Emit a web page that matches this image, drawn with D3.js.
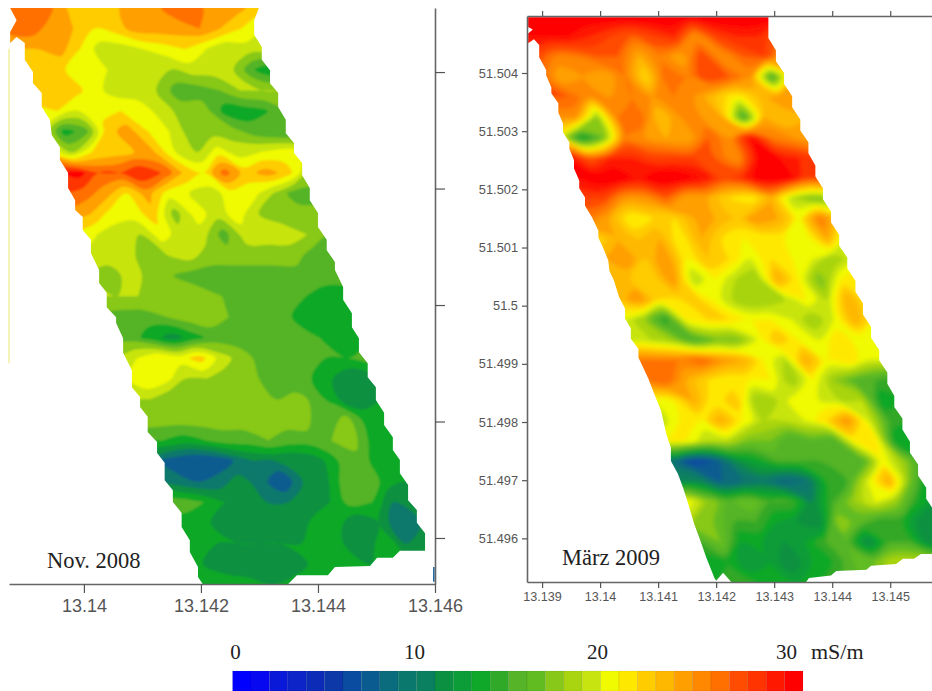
<!DOCTYPE html>
<html>
<head>
<meta charset="utf-8">
<script src="https://cdn.jsdelivr.net/npm/d3@7"></script>
<style>
  body { margin: 0; background: #fff; }
  svg { display: block; }
  .caption { font-family: "Liberation Serif", serif; fill: #222; }
  .tick text { font-family: "Liberation Sans", Arial, sans-serif; fill: #555; }
</style>
</head>
<body>
<div id="chart"></div>
<script>
const width = 932;
const height = 691;

// conductivity colour key, one colour per mS/m
const legendColors = ['#0000ff', '#0808f0', '#0a18d8', '#0c24c8', '#0c2cb8', '#0c38a8', '#0a4ca0', '#0a5c90',
    '#0a6c7c', '#0a786c', '#0a8060', '#0a9040', '#0c9c38', '#10a828', '#30a828', '#55b428', '#60bc20', '#88c818',
    '#a8d410', '#c8e410', '#f0fa00', '#ffe800', '#ffcc00', '#ffb800', '#ff9f00', '#ff8800', '#ff7000', '#ff4c00',
    '#ff3400', '#ff1800', '#ff0000'];
const legendLabels = [0, 10, 20, 30];

const novValues = [
    [26, 26, 27, 24, 22, 23, 25, 25, 27, 27, 25, 25, 23, 21],
    [27, 27, 25, 24, 22, 23, 25, 25, 25, 26, 24, 22, 20, 19],
    [24, 24, 25, 22, 19, 19, 20, 21, 22, 20, 18, 19, 19, 19],
    [23, 23, 22, 21, 20, 19, 19, 18, 19, 19, 18, 14, 12, 14],
    [24, 24, 23, 21, 19, 19, 18, 15, 15, 16, 18, 18, 18, 18],
    [21, 22, 20, 21, 22, 21, 19, 17, 17, 13, 13, 14, 16, 16],
    [20, 13, 15, 23, 25, 22, 20, 17, 17, 17, 15, 14, 14, 16],
    [22, 18, 22, 23, 24, 24, 20, 18, 21, 19, 20, 21, 21, 20],
    [30, 31, 28, 28, 30, 28, 24, 22, 27, 23, 25, 23, 18, 18],
    [28, 27, 25, 22, 25, 21, 20, 19, 21, 21, 18, 15, 15, 16],
    [25, 24, 21, 21, 23, 17, 21, 19, 21, 18, 17, 17, 17, 17],
    [21, 20, 19, 18, 21, 19, 19, 15, 19, 19, 19, 18, 16, 16],
    [20, 19, 19, 17, 18, 19, 17, 17, 17, 17, 17, 15, 15, 15],
    [18, 17, 19, 17, 16, 15, 15, 15, 15, 15, 15, 15, 15, 15],
    [18, 18, 18, 17, 17, 17, 16, 15, 15, 15, 14, 13, 13, 14],
    [15, 15, 15, 16, 17, 17, 16, 15, 15, 14, 13, 13, 13, 13],
    [15, 15, 13, 11, 13, 15, 15, 15, 16, 16, 14, 13, 13, 14],
    [18, 20, 22, 21, 23, 19, 17, 15, 15, 15, 14, 14, 15, 15],
    [20, 22, 21, 18, 18, 17, 17, 15, 14, 14, 12, 10, 11, 13],
    [18, 18, 16, 17, 17, 17, 17, 16, 17, 15, 12, 11, 12, 13],
    [17, 17, 17, 17, 17, 17, 17, 17, 17, 14, 17, 13, 12, 13],
    [14, 14, 13, 14, 15, 15, 16, 15, 15, 16, 17, 13, 12, 13],
    [9, 7, 6, 6, 8, 10, 10, 10, 11, 14, 15, 13, 12, 13],
    [10, 9, 8, 9, 11, 9, 6, 10, 11, 15, 16, 13, 12, 13],
    [15, 15, 14, 12, 10, 10, 10, 10, 12, 15, 14, 10, 11, 13],
    [13, 13, 12, 11, 10, 10, 10, 13, 13, 10, 12, 8, 10, 12],
    [13, 13, 12, 12, 12, 12, 12, 14, 12, 10, 14, 10, 12, 12],
    [12, 12, 10, 10, 10, 10, 12, 13, 12, 12, 12, 12, 12, 12],
    [12, 13, 14, 13, 12, 13, 12, 12, 12, 12, 12, 12, 12, 12]
];

// März 2009
const marValues = [
    [31, 31, 31, 31, 31, 31, 31, 31, 31, 31, 31, 31, 31, 31],
    [30, 30, 30, 29, 28, 27, 28, 29, 25, 28, 29, 29, 27, 27],
    [28, 26, 26, 27, 27, 24, 26, 24, 28, 25, 27, 28, 24, 24],
    [27, 24, 25, 24, 26, 22, 27, 26, 28, 27, 25, 15, 24, 24],
    [27, 27, 25, 25, 26, 25, 26, 25, 23, 21, 23, 25, 24, 24],
    [25, 25, 18, 26, 27, 23, 25, 25, 24, 15, 24, 23, 24, 24],
    [20, 13, 17, 26, 25, 24, 24, 27, 25, 30, 26, 25, 24, 24],
    [30, 27, 29, 29, 28, 28, 28, 27, 25, 30, 30, 29, 28, 28],
    [30, 31, 31, 30, 31, 31, 30, 28, 29, 31, 31, 28, 28, 28],
    [28, 28, 25, 25, 27, 24, 24, 22, 21, 24, 19, 17, 18, 18],
    [26, 24, 21, 22, 22, 24, 24, 23, 25, 24, 21, 26, 22, 22],
    [22, 24, 23, 24, 21, 24, 22, 21, 21, 21, 20, 24, 19, 19],
    [24, 25, 23, 25, 21, 23, 22, 20, 22, 21, 20, 18, 20, 20],
    [23, 23, 22, 25, 19, 21, 19, 18, 24, 21, 17, 21, 22, 22],
    [23, 25, 22, 22, 22, 20, 18, 18, 19, 21, 19, 24, 21, 21],
    [20, 18, 14, 21, 22, 22, 21, 21, 20, 18, 20, 24, 21, 21],
    [19, 19, 18, 15, 17, 17, 20, 23, 21, 20, 22, 20, 20, 20],
    [26, 26, 26, 27, 25, 24, 21, 19, 24, 21, 22, 20, 20, 20],
    [26, 27, 24, 22, 21, 21, 21, 18, 21, 18, 16, 15, 14, 14],
    [20, 21, 24, 21, 23, 18, 19, 21, 20, 19, 19, 13, 14, 14],
    [19, 21, 21, 24, 21, 19, 19, 20, 22, 25, 20, 15, 14, 14],
    [21, 21, 19, 19, 17, 17, 15, 16, 15, 21, 22, 13, 13, 13],
    [9, 6, 7, 11, 13, 15, 15, 15, 15, 15, 21, 18, 14, 14],
    [11, 11, 8, 9, 10, 8, 9, 14, 15, 20, 24, 17, 12, 12],
    [21, 18, 16, 17, 15, 15, 11, 15, 18, 20, 18, 14, 12, 12],
    [18, 17, 15, 15, 13, 12, 11, 18, 16, 14, 14, 11, 11, 11],
    [15, 17, 13, 13, 12, 13, 15, 16, 11, 15, 15, 11, 11, 11],
    [13, 14, 12, 13, 11, 13, 14, 16, 17, 19, 19, 19, 19, 19],
    [14, 15, 14, 13, 13, 14, 15, 16, 17, 18, 18, 18, 18, 18]
];

// outline of the surveyed strip as [lon, lat], going down the west side and back up the east side
const novEdge = [
    [13.13874, 51.5051], [13.13885, 51.50489], [13.13874, 51.50469], [13.13874, 51.5045], [13.13885, 51.5046],
    [13.13899, 51.5045], [13.13899, 51.50421], [13.13913, 51.504], [13.13913, 51.50381], [13.13928, 51.50364],
    [13.13928, 51.5034], [13.13942, 51.50318], [13.13945, 51.50292], [13.13959, 51.50271], [13.13959, 51.50249],
    [13.13973, 51.50227], [13.13973, 51.50201], [13.13985, 51.5018], [13.13985, 51.50163], [13.13998, 51.50151],
    [13.13998, 51.50129], [13.14012, 51.50112], [13.14012, 51.50089], [13.14026, 51.5006], [13.14026, 51.50038],
    [13.14039, 51.50021], [13.14039, 51.49996], [13.14055, 51.49979], [13.14055, 51.49969], [13.14067, 51.49943],
    [13.14067, 51.49918], [13.14082, 51.49888], [13.14082, 51.49859], [13.14096, 51.49842], [13.14096, 51.49825],
    [13.14109, 51.49808], [13.14109, 51.49782], [13.14125, 51.49765], [13.14125, 51.49746], [13.14138, 51.49729],
    [13.14138, 51.49699], [13.14152, 51.49682], [13.14152, 51.49662], [13.14167, 51.49643], [13.14167, 51.49619],
    [13.14181, 51.49596], [13.14181, 51.49576], [13.14195, 51.4955], [13.14195, 51.49533], [13.14203, 51.49521],
    [13.14349, 51.49521], [13.14364, 51.49536], [13.14417, 51.49536], [13.14429, 51.4955], [13.14489, 51.49552],
    [13.14501, 51.49566], [13.14528, 51.49566], [13.1454, 51.49578], [13.14583, 51.49578], [13.14583, 51.49608],
    [13.14569, 51.49626], [13.14569, 51.49648], [13.14554, 51.49665], [13.14554, 51.49691], [13.1454, 51.49711],
    [13.1454, 51.49734], [13.14528, 51.49751], [13.14528, 51.49773], [13.14513, 51.49794], [13.14513, 51.49815],
    [13.14499, 51.49837], [13.14499, 51.49859], [13.14485, 51.49876], [13.14485, 51.499], [13.1447, 51.49919],
    [13.1447, 51.49943], [13.14458, 51.49962], [13.14458, 51.49986], [13.14443, 51.50009], [13.14443, 51.50031],
    [13.14429, 51.5006], [13.14429, 51.50074], [13.14415, 51.50094], [13.14415, 51.50112], [13.144, 51.50134],
    [13.144, 51.50158], [13.14386, 51.5018], [13.14386, 51.50201], [13.14373, 51.50223], [13.14373, 51.50244],
    [13.14359, 51.50261], [13.14359, 51.50278], [13.14345, 51.50295], [13.14345, 51.50318], [13.14332, 51.5034],
    [13.14332, 51.50364], [13.14318, 51.50381], [13.14318, 51.50403], [13.14304, 51.50421], [13.14304, 51.50443],
    [13.14291, 51.50464], [13.14291, 51.50489], [13.14299, 51.5051]
];

const marEdge = [
    [13.13876, 51.50496], [13.13876, 51.50479], [13.13884, 51.50475], [13.13876, 51.50468], [13.13876, 51.50451],
    [13.13886, 51.50458], [13.13895, 51.50448], [13.13895, 51.50427], [13.13907, 51.50405], [13.13907, 51.50396],
    [13.13916, 51.50375], [13.13916, 51.50365], [13.13928, 51.50348], [13.13928, 51.50332], [13.13936, 51.50313],
    [13.13936, 51.50298], [13.13947, 51.50281], [13.13947, 51.5027], [13.13955, 51.5025], [13.13955, 51.50236],
    [13.13964, 51.50215], [13.13964, 51.50202], [13.13974, 51.50186], [13.13974, 51.50172], [13.13986, 51.50152],
    [13.13997, 51.50129], [13.13997, 51.50117], [13.14005, 51.501], [13.14014, 51.50078], [13.14016, 51.5006],
    [13.14024, 51.50043], [13.14033, 51.50014], [13.14043, 51.49995], [13.14043, 51.49978], [13.14053, 51.49961],
    [13.14053, 51.49943], [13.14066, 51.49926], [13.14066, 51.49911], [13.14074, 51.49894], [13.14083, 51.49875],
    [13.14093, 51.49849], [13.14105, 51.4982], [13.14114, 51.4978], [13.14122, 51.49756], [13.14122, 51.49733],
    [13.14134, 51.49711], [13.14143, 51.49687], [13.14152, 51.49659], [13.14162, 51.49625], [13.14171, 51.49601],
    [13.14183, 51.49567], [13.14197, 51.49532], [13.142, 51.49527], [13.14212, 51.49541], [13.14226, 51.49525],
    [13.14355, 51.49525], [13.1436, 51.49532], [13.14398, 51.49536], [13.14407, 51.49544], [13.14459, 51.49546],
    [13.14467, 51.49553], [13.1451, 51.49556], [13.14522, 51.49565], [13.14541, 51.49565], [13.14553, 51.49573],
    [13.14595, 51.49573], [13.14595, 51.49613], [13.14576, 51.49647], [13.14562, 51.49668], [13.14562, 51.49687],
    [13.14548, 51.49708], [13.14548, 51.49727], [13.14534, 51.49747], [13.14534, 51.49766], [13.14521, 51.49787],
    [13.14521, 51.49806], [13.14507, 51.49826], [13.14507, 51.49845], [13.14495, 51.49866], [13.14495, 51.49885],
    [13.14481, 51.49906], [13.14481, 51.49924], [13.14467, 51.49945], [13.14467, 51.49964], [13.14453, 51.49985],
    [13.14453, 51.50004], [13.1444, 51.50024], [13.1444, 51.50043], [13.14426, 51.50064], [13.14426, 51.50083],
    [13.14412, 51.50103], [13.14412, 51.50122], [13.14398, 51.50143], [13.14398, 51.50162], [13.14384, 51.50183],
    [13.14384, 51.50202], [13.14371, 51.50222], [13.14371, 51.50241], [13.14359, 51.50262], [13.14359, 51.50281],
    [13.14345, 51.50301], [13.14345, 51.5032], [13.14331, 51.50341], [13.14331, 51.5036], [13.14317, 51.50381],
    [13.14317, 51.504], [13.14303, 51.5042], [13.14303, 51.50439], [13.1429, 51.5046], [13.1429, 51.50496]
];

// slivers of the neighbouring map left at the crop edges: [lon, lat from, lat to, colour]
const cropSlivers = [
    [13.13872, 51.50440, 51.49900, '#f0f0a0'],
    [13.14598, 51.49550, 51.49525, '#1060a0']
];

const novLonTicks = [13.14, 13.142, 13.144, 13.146];
const novLatTicks = [51.504, 51.502, 51.5, 51.498, 51.496];
const marLonTicks = [13.139, 13.14, 13.141, 13.142, 13.143, 13.144, 13.145];
const marLatTicks = [51.504, 51.503, 51.502, 51.501, 51.5, 51.499, 51.498, 51.497, 51.496];

const svg = d3.select('#chart')
    .append('svg')
    .attr('width', width)
    .attr('height', height);

const defs = svg.append('defs');
[['softNov', 1.0], ['softMar', 2.2]].forEach(function (f) {
    defs.append('filter')
        .attr('id', f[0])
        .attr('x', '-5%').attr('y', '-5%').attr('width', '110%').attr('height', '110%')
        .append('feGaussianBlur')
        .attr('stdDeviation', f[1]);
});

// left panel scales
const xNov = d3.scaleLinear().domain([13.13872, 13.146]).range([9, 435]);
const yNov = d3.scaleLinear().domain([51.5051, 51.49521]).range([8, 584]);

// right panel scales
const xMar = d3.scaleLinear().domain([13.13874, 13.14572]).range([527, 932]);
const yMar = d3.scaleLinear().domain([51.50498, 51.49525]).range([16, 582]);

const ringLine = d3.line().curve(d3.curveCatmullRomClosed.alpha(0.5));

function drawMap(name, values, edge, x, y, grid, thresholds, colorAt, filterId) {
    const rows = values.length;
    const cols = values[0].length;

    // the survey lines are slanted, so grid cells get sheared into lon/lat
    function project(p) {
        const col = p[0] - 0.5;
        const row = p[1] - 0.5;
        const lat = grid.lat0 + row * grid.dLat;
        const lon = grid.lon0 + row * grid.shear + col * grid.dLon;
        return [x(lon), y(lat)];
    }

    function contourPath(d) {
        return d.coordinates
            .flat()
            .map(ring => ringLine(ring.slice(0, -1).map(project)))
            .join('');
    }

    defs.append('clipPath')
        .attr('id', 'clip' + name)
        .append('path')
        .attr('d', d3.line().x(d => x(d[0])).y(d => y(d[1]))(edge) + 'Z');

    const contours = d3.contours()
        .size([cols, rows])
        .thresholds(thresholds)(values.flat());

    svg.append('g')
        .attr('clip-path', 'url(#clip' + name + ')')
        .append('g')
        .attr('filter', 'url(#' + filterId + ')')
        .selectAll('path')
        .data(contours)
        .join('path')
        .attr('d', contourPath)
        .attr('fill-rule', 'evenodd')
        .attr('fill', d => colorAt(d.value));
}

drawMap('Nov', novValues, novEdge, xNov, yNov,
    { lat0: 51.5051, dLat: -0.0003536, lon0: 13.13863, shear: 0.0001128, dLon: 0.000359 },
    d3.range(0, 31, 2), t => legendColors[t < 20 ? t + 1 : t], 'softNov');

drawMap('Mar', marValues, marEdge, xMar, yMar,
    { lat0: 51.504976, dLat: -0.0003477, lon0: 13.13862, shear: 0.000119, dLon: 0.000362 },
    d3.range(0, 31, 1), t => legendColors[t], 'softMar');

svg.selectAll('.sliver')
    .data(cropSlivers)
    .join('line')
    .attr('class', 'sliver')
    .attr('x1', d => xNov(d[0]))
    .attr('x2', d => xNov(d[0]))
    .attr('y1', d => yNov(d[1]))
    .attr('y2', d => yNov(d[2]))
    .attr('stroke', d => d[3])
    .attr('stroke-width', 1.5);

function styleAxis(g, size) {
    g.selectAll('.domain').attr('stroke', '#666').attr('stroke-width', 1.6);
    g.selectAll('.tick line').attr('stroke', '#555').attr('stroke-width', 1.2);
    g.selectAll('.tick text').style('font-size', size + 'px');
}

const latFormat = d => String(+d.toFixed(3));

// left panel axes
svg.append('g')
    .attr('transform', 'translate(0,584)')
    .call(d3.axisBottom(xNov).tickValues(novLonTicks).tickFormat(latFormat).tickSize(9).tickSizeOuter(0).tickPadding(6))
    .call(styleAxis, 18);

svg.append('g')
    .attr('transform', 'translate(435,0)')
    .call(d3.axisRight(yNov).tickValues(novLatTicks).tickFormat('').tickSize(10).tickSizeOuter(0))
    .call(styleAxis, 12);

// right panel axes
svg.append('g')
    .attr('transform', 'translate(0,582)')
    .call(d3.axisBottom(xMar).tickValues(marLonTicks).tickFormat(latFormat).tickSize(6).tickSizeOuter(0).tickPadding(4))
    .call(styleAxis, 12.6);

svg.append('g')
    .attr('transform', 'translate(0,16)')
    .call(d3.axisTop(xMar).tickValues(marLonTicks).tickFormat('').tickSize(5).tickSizeOuter(0))
    .call(styleAxis, 12);

svg.append('g')
    .attr('transform', 'translate(527,0)')
    .call(d3.axisLeft(yMar).tickValues(marLatTicks).tickFormat(latFormat).tickSize(5).tickSizeOuter(0).tickPadding(4))
    .call(styleAxis, 12.8);

// panel captions
svg.append('text').attr('class', 'caption')
    .attr('x', 47).attr('y', 568)
    .style('font-size', '22.5px')
    .text('Nov. 2008');

svg.append('text').attr('class', 'caption')
    .attr('x', 562).attr('y', 565)
    .style('font-size', '22.5px')
    .text('März 2009');

// colour key
const keyX = d3.scaleBand()
    .domain(d3.range(legendColors.length))
    .range([232.6, 803]);

svg.selectAll('.key')
    .data(legendColors)
    .join('rect')
    .attr('class', 'key')
    .attr('x', (d, i) => keyX(i))
    .attr('y', 671)
    .attr('width', keyX.bandwidth())
    .attr('height', 20)
    .attr('fill', d => d)
    .attr('stroke', '#000')
    .attr('stroke-opacity', 0.08)
    .attr('stroke-width', 0.8);

// the printed labels do not sit evenly along the key, so they get their own scale
const keyLabelX = d3.scaleLinear()
    .domain(legendLabels)
    .range([235.5, 414.5, 597.5, 786.5]);

svg.selectAll('.keyLabel')
    .data(legendLabels)
    .join('text')
    .attr('class', 'caption keyLabel')
    .attr('x', d => keyLabelX(d))
    .attr('y', 659)
    .attr('text-anchor', 'middle')
    .style('font-size', '21px')
    .text(d => d);

svg.append('text').attr('class', 'caption')
    .attr('x', 811).attr('y', 659)
    .style('font-size', '22px')
    .text('mS/m');
</script>
</body>
</html>
